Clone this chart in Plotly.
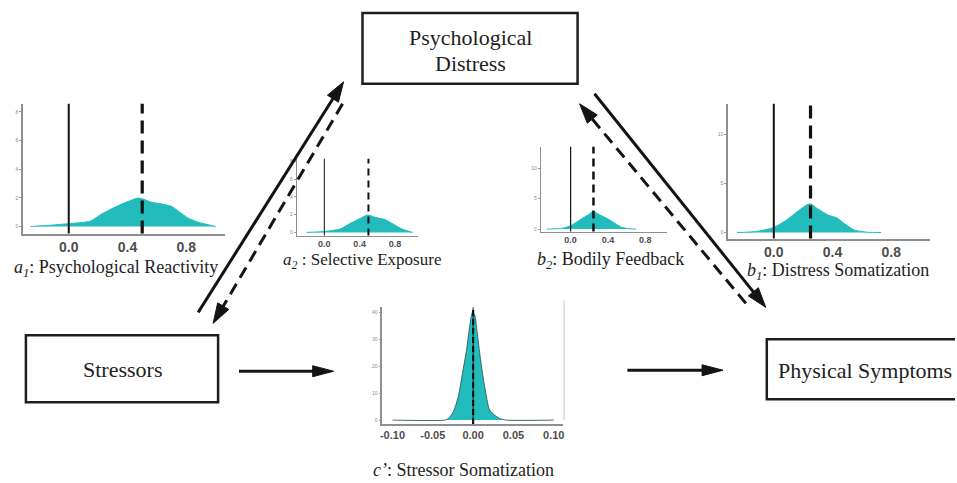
import math
import plotly.graph_objects as go

W, H = 957, 483

# ---------------- data ----------------
a1_x = [-0.26, -0.11, 0.0, 0.146, 0.225, 0.34, 0.42, 0.47, 0.50, 0.56, 0.63, 0.70, 0.74, 0.81, 0.88, 0.95, 1.00]
a1_y = [0.0, 0.10, 0.20, 0.37, 0.88, 1.47, 1.81, 1.98, 1.93, 1.70, 1.58, 1.40, 1.12, 0.60, 0.30, 0.12, 0.0]
a1_mean = 0.50

a2_x = [-0.20, 0.0, 0.18, 0.29, 0.41, 0.49, 0.575, 0.69, 0.78, 0.88, 1.00]
a2_y = [0.0, 0.10, 0.38, 1.00, 1.58, 1.96, 1.70, 1.43, 0.94, 0.38, 0.0]
a2_mean = 0.50

b2_x = [-0.255, -0.08, 0.0, 0.10, 0.19, 0.24, 0.31, 0.40, 0.47, 0.54, 0.63, 0.70]
b2_y = [0.0, 0.15, 0.55, 1.50, 2.35, 2.90, 2.35, 1.65, 1.00, 0.33, 0.05, 0.0]
b2_mean = 0.245

b1_x = [-0.25, -0.124, 0.0, 0.079, 0.169, 0.225, 0.25, 0.30, 0.37, 0.43, 0.485, 0.55, 0.64, 0.73]
b1_y = [0.0, 0.10, 0.52, 1.20, 2.24, 2.83, 2.93, 2.41, 1.79, 1.48, 0.86, 0.24, 0.03, 0.0]
b1_mean = 0.25

c_x = [-0.10, -0.0347, -0.0306, -0.0245, -0.0184, -0.0143, -0.0082, -0.004, -0.0008, 0.002, 0.0049, 0.009, 0.0143, 0.0204, 0.0265, 0.0327, 0.041, 0.10]
c_y = [0.0, 0.0, 0.6, 3.1, 8.7, 15.5, 26.0, 35.3, 40.0, 39.0, 32.8, 22.9, 12.4, 3.7, 1.86, 0.6, 0.0, 0.0]
c_mean = 0.0

ab_ticks = [0.0, 0.4, 0.8]
ab_ticktext = ["0.0", "0.4", "0.8"]
c_ticks = [-0.10, -0.05, 0.00, 0.05, 0.10]
c_ticktext = ["-0.10", "-0.05", "0.00", "0.05", "0.10"]
a_yticks = [0, 2, 4, 6, 8]
b_yticks = [0, 5, 10]
c_yticks = [0, 10, 20, 30, 40]

labels = {
    "a1": "<i>a</i><sub><i>1</i></sub>: Psychological Reactivity",
    "a2": "<i>a</i><sub><i>2</i></sub> : Selective Exposure",
    "b2": "<i>b</i><sub><i>2</i></sub>: Bodily Feedback",
    "b1": "<i>b</i><sub><i>1</i></sub>: Distress Somatization",
    "c": "<i>c’</i>: Stressor Somatization",
}

TEAL = "#22bcbc"

fig = go.Figure()


def dom_x(l, r):
    return [l / W, r / W]


def dom_y(t, b):
    return [1 - b / H, 1 - t / H]


panels = [
    # name, x, y, mean, plot box (l, t, r, b), xrange, yrange, xticks, xtext, yticks, tickfont size, axis width, solid w, dash w, dash pattern
    ("2", a1_x, a1_y, a1_mean, (21, 103, 224, 233), [-0.312, 1.064], [-0.49, 8.56], ab_ticks, ab_ticktext, a_yticks, 14, 1.5, 2, 3.2, "13px,7px"),
    ("3", a2_x, a2_y, a2_mean, (296, 158, 418, 235), [-0.312, 1.064], [-0.35, 8.3], ab_ticks, ab_ticktext, a_yticks, 9, 1, 1, 2, "7px,5px"),
    ("4", b2_x, b2_y, b2_mean, (541, 146, 668, 231), [-0.32, 1.035], [-0.4, 13.5], ab_ticks, ab_ticktext, b_yticks, 9, 1, 1.2, 2.5, "8px,5px"),
    ("5", b1_x, b1_y, b1_mean, (729, 103, 932, 238), [-0.312, 1.064], [-0.61, 13.16], ab_ticks, ab_ticktext, b_yticks, 14, 1.5, 2, 3.2, "13px,7px"),
    ("6", c_x, c_y, c_mean, (382, 307, 563, 424), [-0.1125, 0.111], [-1.5, 41.8], c_ticks, c_ticktext, c_yticks, 11, 1.5, 1, 2.2, "6px,3px"),
]

layout_axes = {}
shapes = []
for (k, xs, ys, mean, box, xr, yr, xt, xtt, yt, tfs, aw, sw, dw, dp) in panels:
    l, t, r, b = box
    is_c = k == "6"
    fig.add_trace(go.Scatter(
        x=xs, y=ys, xaxis="x" + k, yaxis="y" + k, mode="lines",
        line=dict(color="#2b4b4b" if is_c else TEAL, width=0.8 if is_c else 1, shape="spline", smoothing=0.6),
        fill="tozeroy", fillcolor=TEAL, showlegend=False, hoverinfo="skip",
    ))
    layout_axes["xaxis" + k] = dict(
        domain=dom_x(l, r), anchor="y" + k, range=xr, showgrid=False, zeroline=False,
        showline=True, linecolor="#8f8f8f", linewidth=aw, ticks="",
        tickvals=xt, ticktext=xtt,
        tickfont=dict(family="Liberation Sans", size=tfs, color="#4d4d4d", weight="bold"),
    )
    layout_axes["yaxis" + k] = dict(
        domain=dom_y(t, b), anchor="x" + k, range=yr, showgrid=False, zeroline=False,
        showline=True, linecolor="#8f8f8f", linewidth=aw, ticks="outside", ticklen=2,
        tickcolor="#9a9a9a", tickwidth=0.6, tickvals=yt,
        tickfont=dict(family="Liberation Sans", size=5, color="#8a8a8a"),
    )
    # zero line (solid) and posterior mean (dashed)
    shapes.append(dict(type="line", xref="x" + k, yref="y" + k + " domain", x0=0, x1=0, y0=0, y1=1,
                       line=dict(color="#111111", width=sw)))
    shapes.append(dict(type="line", xref="x" + k, yref="y" + k + " domain", x0=mean, x1=mean, y0=0, y1=1,
                       line=dict(color="#111111", width=dw, dash=dp)))


# ---------------- diagram: boxes, arrows, text ----------------
def box(x0, y0, x1, y1):
    shapes.append(dict(type="rect", xref="x", yref="y", x0=x0, y0=y0, x1=x1, y1=y1,
                       line=dict(color="#1e1e1e", width=2.5), fillcolor="rgba(0,0,0,0)"))


def arrow(p0, tip, dash=None, head_len=20, half_w=6.5, width=3):
    dx, dy = tip[0] - p0[0], tip[1] - p0[1]
    L = math.hypot(dx, dy)
    ux, uy = dx / L, dy / L
    bx, by = tip[0] - ux * head_len, tip[1] - uy * head_len
    ln = dict(color="#141414", width=width)
    if dash:
        ln["dash"] = dash
    shapes.append(dict(type="line", xref="x", yref="y", x0=p0[0], y0=p0[1],
                       x1=bx + ux * 2, y1=by + uy * 2, line=ln))
    px, py = -uy, ux
    path = "M {:.1f},{:.1f} L {:.1f},{:.1f} L {:.1f},{:.1f} Z".format(
        tip[0], tip[1], bx + px * half_w, by + py * half_w, bx - px * half_w, by - py * half_w)
    shapes.append(dict(type="path", xref="x", yref="y", path=path,
                       fillcolor="#141414", line=dict(color="#141414", width=1)))


box(362, 12, 578, 83)
box(24, 335, 217, 402)
box(768, 339, 962, 399)

arrow((197, 312), (343, 81))
arrow((342, 103), (212, 323), dash="12px,7px")
arrow((595, 93), (767, 307))
arrow((747, 303), (580, 103), dash="12px,7px")
arrow((238, 371), (333, 371), head_len=21, half_w=5.5)
arrow((628, 370), (724, 370), head_len=21, half_w=5.5)

# faint frame line to the right of the c' panel
shapes.append(dict(type="line", xref="x", yref="y", x0=564.5, x1=564.5, y0=300, y1=420,
                   line=dict(color="#c9c9d6", width=1)))

SERIF = "Liberation Serif"
annotations = []


def txt(x, y, s, size=18, xanchor="left"):
    annotations.append(dict(x=x, y=y, xref="x", yref="y", text=s, showarrow=False,
                            xanchor=xanchor, yanchor="middle",
                            font=dict(family=SERIF, size=size, color="#1e1e1e")))


txt(470, 37, "Psychological", size=22, xanchor="center")
txt(470, 63, "Distress", size=22, xanchor="center")
txt(121, 369, "Stressors", size=22, xanchor="center")
txt(777, 370, "Physical Symptoms", size=22)

txt(10, 268, labels["a1"])
txt(280, 261, labels["a2"], size=17)
txt(535, 260, labels["b2"])
txt(746, 271, labels["b1"])
txt(371, 470, labels["c"])

fig.update_layout(
    width=W, height=H, margin=dict(l=0, r=0, t=0, b=0),
    paper_bgcolor="white", plot_bgcolor="rgba(0,0,0,0)",
    xaxis=dict(domain=[0, 1], range=[0, W], visible=False, fixedrange=True),
    yaxis=dict(domain=[0, 1], range=[H, 0], visible=False, fixedrange=True),
    shapes=shapes, annotations=annotations, showlegend=False,
    **layout_axes,
)

fig.write_html("out.html", config={"displayModeBar": False},
               post_script="document.body.style.margin='0';document.body.style.overflow='hidden';")
